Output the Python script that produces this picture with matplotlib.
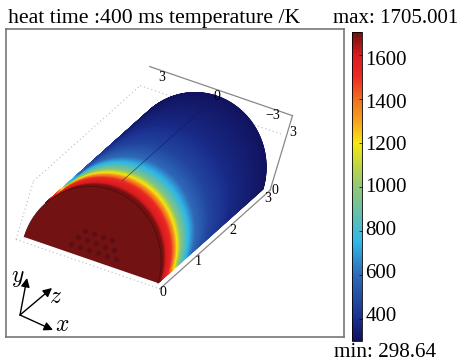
import numpy as np
import matplotlib
matplotlib.use('Agg')
import matplotlib.pyplot as plt
from matplotlib.colors import LinearSegmentedColormap, Normalize
from matplotlib.cm import ScalarMappable

plt.rcParams['font.family'] = ['Liberation Serif', 'DejaVu Serif']
plt.rcParams['mathtext.fontset'] = 'cm'

t_min = 298.64
t_max = 1705.001
cbar_ticks = [400, 600, 800, 1000, 1200, 1400, 1600]

# temperature along the cylinder
z_stations = [0, 0.08, 0.15, 0.3, 0.38, 0.47, 0.6, 0.8, 1.0, 1.4, 2, 3]
t_stations = [1705, 1690, 1600, 1500, 1370, 1200, 950, 750, 590, 470, 380, 310]

# colour bar stops
cmap_temps = [298.64, 400, 600, 750, 900, 1000, 1100, 1200, 1300, 1400, 1500, 1600, 1705.001]
cmap_colors = ['#10105a', '#1a2f8f', '#2f6bb8', '#30b8e8', '#70c0a0', '#90c878', '#c0d840',
               '#f8e810', '#f8a020', '#f07020', '#ee2a24', '#d81c20', '#6e1010']

# holes on the end face, model units
hole_x = [-0.6, -0.19, 0.21, 0.62,
          -0.8, -0.4, 0.0, 0.41, 0.82,
          -1.01, -0.6, -0.2, 0.2, 0.61, 1.01]
hole_y = [1.06] * 4 + [0.71] * 5 + [0.37] * 6

x_ticks = [-3, 0, 3]
y_ticks = [0, 3]
z_ticks = [0, 1, 2, 3]

norm = Normalize(t_min, t_max)
stops = [(t - t_min) / (t_max - t_min) for t in cmap_temps]
rainbow = LinearSegmentedColormap.from_list('rainbow_bar', list(zip(stops, cmap_colors)), N=512)

# projection of model units to picture pixels
origin = np.array([91.0, 260.0])
ex = np.array([22.3, 7.67])
ey = np.array([7.0, -23.3])
ez = np.array([35.0, -31.3])


def proj(x, y, z):
    x, y, z = np.asarray(x, float), np.asarray(y, float), np.asarray(z, float)
    return (origin[0] + x * ex[0] + y * ey[0] + z * ez[0],
            origin[1] + x * ex[1] + y * ey[1] + z * ez[1])


W, H = 459, 363
fig = plt.figure(figsize=(W / 100, H / 100), dpi=100)
L, R, T, B = 6, 344, 29, 337
ax = fig.add_axes([L / W, 1 - B / H, (R - L) / W, (B - T) / H])
ax.set_xlim(L, R)
ax.set_ylim(B, T)
ax.set_xticks([])
ax.set_yticks([])
for s in ax.spines.values():
    s.set_color('#777777')
    s.set_linewidth(1.2)

# curved surface, only the part that faces the viewer
theta = np.radians(np.linspace(0, 148, 120))
zz = np.linspace(0, 3, 400)
TH, ZZ = np.meshgrid(theta, zz)
px, py = proj(3 * np.cos(TH), 3 * np.sin(TH), ZZ)
temp = np.interp(ZZ, z_stations, t_stations)
ax.pcolormesh(px, py, temp, cmap=rainbow, norm=norm, shading='gouraud', zorder=3)

# end face
arc = np.radians(np.linspace(0, 180, 200))
fx, fy = proj(3 * np.cos(arc), 3 * np.sin(arc), np.zeros_like(arc))
ax.fill(fx, fy, color='#731213', lw=0, zorder=4)
ax.plot(fx, fy, color='#4a0c0c', lw=0.5, zorder=4)
hx, hy = proj(hole_x, hole_y, np.zeros(len(hole_x)))
ax.scatter(hx, hy, s=14, color='#5a0f14', lw=0, zorder=5)

# seam on top
sx, sy = proj([0, 0], [3, 3], [0.3, 3])
ax.plot(sx, sy, color='#101a50', lw=0.5, alpha=0.7, zorder=5)

# box axes
gray = '#888888'
ax.plot(*proj([3.15, 3.15], [-0.2, -0.2], [0, 3.15]), color=gray, lw=0.9, zorder=2)
ax.plot(*proj([3.15, 3.15], [-0.2, 3], [3.15, 3.15]), color=gray, lw=0.9, zorder=2)
ax.plot(*proj([3.15, -3.25], [3, 3], [3.15, 3.15]), color=gray, lw=0.9, zorder=2)

# dotted box
for xs, ys, zs in [([-3.3, 3.15], [-0.2, -0.2], [0, 0]),
                   ([-3.3, -3.3], [-0.2, 2.3], [0, 0]),
                   ([-3.3, -3.3], [2.3, 2.3], [0, 3.05]),
                   ([-3.3, 3.1], [2.3, 2.3], [3.05, 3.05])]:
    ax.plot(*proj(xs, ys, zs), color='#bbbbbb', lw=0.8, ls=(0, (1, 2.5)), zorder=1)

for z in z_ticks:
    tx, ty = proj(3.15, -0.2, z)
    ax.annotate(str(z), (tx, ty), xytext=(3, -4), textcoords='offset pixels', fontsize=10,
                ha='center', va='center', annotation_clip=False, zorder=6)
for y in y_ticks:
    tx, ty = proj(3.15, -0.2 + 0.83 * y, 3.15)
    ax.annotate(str(y), (tx, ty), xytext=(5, 0), textcoords='offset pixels', fontsize=10,
                ha='center', va='center', zorder=6)
for x in x_ticks:
    tx, ty = proj(-0.24 - 0.83 * x, 3, 3.15)
    lab = '\u22123' if x < 0 else str(x)
    ax.annotate(lab, (tx, ty), xytext=(0, -7), textcoords='offset pixels', fontsize=10,
                ha='center', va='center', zorder=6)

# orientation triad
tri = (20, 315)
for end in [(27, 278), (52, 288), (53, 330)]:
    ax.annotate('', xy=end, xytext=tri, zorder=7,
                arrowprops=dict(arrowstyle='-|>', color='black', lw=1.0, mutation_scale=13,
                                shrinkA=0, shrinkB=0))
ax.text(18, 279, '$y$', fontsize=17, ha='center', va='center')
ax.text(56, 298, '$z$', fontsize=17, ha='center', va='center')
ax.text(62, 326, '$x$', fontsize=17, ha='center', va='center')

# colour bar, labels sit a little off their ticks in the original
cax = fig.add_axes([352 / W, 1 - 341 / H, 9.5 / W, 309 / H])
cb = fig.colorbar(ScalarMappable(norm=norm, cmap=rainbow), cax=cax, ticks=cbar_ticks)
cb.outline.set_linewidth(0.6)
cax.tick_params(direction='in', length=2.5, width=0.5, labelright=False)
label_shift = [-2, -1, 0, 1, 3, 4, 5]
for t, dy in zip(cbar_ticks, label_shift):
    cax.annotate(str(t), (1, t), xycoords=('axes fraction', 'data'), xytext=(4, -dy),
                 textcoords='offset pixels', fontsize=15, ha='left', va='center',
                 annotation_clip=False)

fig.text(8 / W, 1 - 23 / H, 'heat time :400 ms temperature /K', fontsize=15.7, va='baseline', ha='left')
fig.text(458 / W, 1 - 23 / H, 'max: 1705.001', fontsize=15, va='baseline', ha='right')
fig.text(334 / W, 1 - 357 / H, 'min: 298.64', fontsize=15.3, va='baseline', ha='left')

fig.savefig('out.png', dpi=100)
